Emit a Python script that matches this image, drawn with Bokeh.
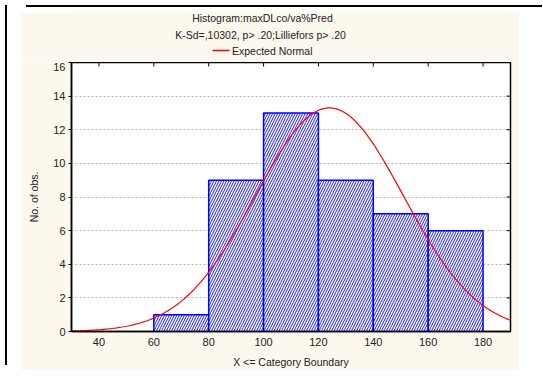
import numpy as np
from bokeh.plotting import figure
from bokeh.layouts import row, column
from bokeh.models import ColumnDataSource, Range1d, FixedTicker, Div
from bokeh.core.properties import value
from bokeh.embed import file_html
from bokeh.resources import INLINE

# ---- data ----
bin_left = [60, 80, 100, 120, 140, 160]
bin_right = [80, 100, 120, 140, 160, 180]
counts = [1, 9, 13, 9, 7, 6]
x_ticks = [40, 60, 80, 100, 120, 140, 160, 180]
y_ticks = [0, 2, 4, 6, 8, 10, 12, 14, 16]
x_min, x_max = 30, 190
y_min, y_max = 0, 16
# expected normal curve parameters (fitted to the drawn curve)
norm_mean = 124.0
norm_sd = 27.0
bin_width = 20.0
n_obs = sum(counts)

title1 = "Histogram:maxDLco/va%Pred"
title2 = "K-Sd=,10302, p> .20;Lilliefors p> .20"
legend_text = "Expected Normal"
x_label = "X <= Category Boundary"
y_label = "No. of obs."

FONT = "Liberation Sans"
CREAM = "#FDF8EE"
TXT = "#222222"
RED = "#FF0000"

curve_x = np.linspace(x_min, x_max, 321)
curve_y = n_obs * bin_width / (norm_sd * np.sqrt(2 * np.pi)) * np.exp(-0.5 * ((curve_x - norm_mean) / norm_sd) ** 2)

W = 498
HH = 50      # header (titles + legend)
HP = 308     # main plot
BL, BR = 50, 9

x_range = Range1d(x_min, x_max)

# ---------------- header (shares the x scale of the plot) ----------------
hdr = figure(width=W, height=HH, x_range=x_range, y_range=Range1d(0, HH),
             output_backend="svg", toolbar_location=None, x_axis_type=None, y_axis_type=None,
             min_border_left=BL, min_border_right=BR, min_border_top=0, min_border_bottom=0,
             background_fill_color=CREAM, border_fill_color=CREAM, outline_line_color=None)
hdr.xgrid.visible = False
hdr.ygrid.visible = False
hdr.text(x=[99.6, 98.9], y=[45, 28], text=[title1, title2], text_align="center", text_baseline="middle",
         text_font=value(FONT), text_font_size=value("10.5px"), text_color=TXT)
hdr.segment(x0=[81.4], x1=[87.6], y0=[12], y1=[12], line_color=RED, line_width=1.3)
hdr.text(x=[88.5], y=[12], text=[legend_text], text_align="left", text_baseline="middle",
         text_font=value(FONT), text_font_size=value("10.5px"), text_color=TXT)

# ---------------- main plot ----------------
p = figure(width=W, height=HP, x_range=x_range, y_range=Range1d(y_min, y_max),
           output_backend="svg", toolbar_location=None,
           min_border_left=BL, min_border_right=BR, min_border_top=0, min_border_bottom=37,
           background_fill_color="white", border_fill_color=CREAM,
           outline_line_color="black", outline_line_width=1.5)

src = ColumnDataSource(dict(left=bin_left, right=bin_right, top=counts, bottom=[0] * len(counts)))
p.quad(left="left", right="right", top="top", bottom="bottom", source=src,
       fill_color="white", line_color="#0000FF", line_width=1.5,
       hatch_pattern="/", hatch_color="#0000FF", hatch_scale=5, hatch_weight=0.9)

p.line(curve_x, curve_y, line_color=RED, line_width=1.2)

# inward ticks on the top and right frame edges
top_len = (y_max - y_min) * 4 / 271
right_len = (x_max - x_min) * 4 / 439
p.segment(x0=x_ticks, x1=x_ticks, y0=[y_max] * len(x_ticks), y1=[y_max - top_len] * len(x_ticks),
          line_color="black", line_width=1)
p.segment(x0=[x_max] * len(y_ticks), x1=[x_max - right_len] * len(y_ticks), y0=y_ticks, y1=y_ticks,
          line_color="black", line_width=1)

p.xgrid.grid_line_color = None
p.ygrid.ticker = FixedTicker(ticks=y_ticks)
p.ygrid.grid_line_color = "#BBBBBB"
p.ygrid.grid_line_dash = "2 2"

for ax in (p.xaxis[0], p.yaxis[0]):
    ax.axis_line_color = "black"
    ax.axis_line_width = 1.5
    ax.major_tick_line_color = "black"
    ax.minor_tick_line_color = None
    ax.major_label_text_font = FONT
    ax.major_label_text_font_size = "11px"
    ax.major_label_text_color = TXT
    ax.axis_label_text_font = FONT
    ax.axis_label_text_font_size = "10.5px"
    ax.axis_label_text_font_style = "normal"
    ax.axis_label_text_color = TXT

p.xaxis.ticker = FixedTicker(ticks=x_ticks)
p.xaxis.major_tick_out = 0
p.xaxis.major_tick_in = 0
p.xaxis.major_label_standoff = 6
p.xaxis.axis_label = x_label
p.xaxis.axis_label_standoff = 7

p.yaxis.ticker = FixedTicker(ticks=y_ticks)
p.yaxis.major_tick_out = 3
p.yaxis.major_tick_in = 0
p.yaxis.major_label_standoff = 3
p.yaxis.axis_label = y_label
p.yaxis.axis_label_standoff = 10

# page frame lines
left_strip = Div(width=11, height=2 + HH + HP,
                 styles={"background": "linear-gradient(to right, black 0px, black 2px, white 2px, white 100%)"})
top_line = Div(width=516, height=2, styles={"background": "black"})

layout = row(left_strip, column(top_line, hdr, p, spacing=0), spacing=0)

open("out.html", "w").write(file_html(layout, INLINE))
